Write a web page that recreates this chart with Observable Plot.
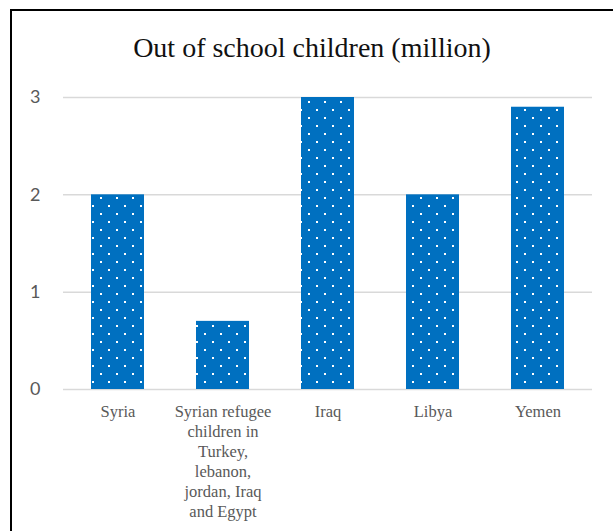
<!DOCTYPE html>
<html>
<head>
<meta charset="utf-8">
<script src="https://cdn.jsdelivr.net/npm/d3@7"></script>
<script src="https://cdn.jsdelivr.net/npm/@observablehq/plot@0.6"></script>
<style>
  html, body { margin: 0; padding: 0; background: #fff; }
  #page { position: relative; width: 613px; height: 531px; overflow: hidden; background: #fff; }
  #border { position: absolute; left: 10px; top: 9px; width: 700px; height: 600px;
            border-left: 2px solid #000; border-top: 2px solid #000; }
  #title { position: absolute; left: 0; top: 33px; width: 624px; text-align: center;
           font-family: "Liberation Serif", serif; font-size: 28px; line-height: 30px; color: #111; }
  #chart { position: absolute; left: 0; top: 80px; }
</style>
</head>
<body>
<div id="page">
  <div id="border"></div>
  <div id="title">Out of school children (million)</div>
  <div id="chart"></div>
</div>
<script>
// Out-of-school children, in millions
const categories = ["Syria", "Syrian refugee children in Turkey, lebanon, jordan, Iraq and Egypt", "Iraq", "Libya", "Yemen"];
const tickLabels = ["Syria", "Syrian refugee\nchildren in\nTurkey,\nlebanon,\njordan, Iraq\nand Egypt", "Iraq", "Libya", "Yemen"];
const values = [2, 0.7, 3, 2, 2.9];
const yTicks = [0, 1, 2, 3];

const data = categories.map((category, i) => ({category, value: values[i]}));

const chart = Plot.plot({
  width: 613,
  height: 451,
  marginTop: 17,
  marginBottom: 142,
  marginLeft: 63,
  marginRight: 21,
  style: {background: "transparent", fontFamily: "'Liberation Serif', serif"},
  x: {domain: categories, paddingInner: 0.5, paddingOuter: 0.25, label: null},
  y: {domain: [0, 3], label: null},
  marks: [
    Plot.gridY(yTicks, {stroke: "#d9d9d9", strokeOpacity: 1, strokeWidth: 1.5}),
    Plot.barY(data, {x: "category", y: "value", fill: "url(#dots)"}),
    Plot.axisY(yTicks, {
      tickSize: 0, tickPadding: 23, fontSize: 18, fill: "#595959",
      fontFamily: "Lato, sans-serif", label: null, tickFormat: d3.format("d")
    }),
    Plot.axisX({
      tickSize: 0, tickPadding: 13, fontSize: 16.5, lineHeight: 20 / 16.5,
      fill: "#595959", label: null,
      tickFormat: d => tickLabels[categories.indexOf(d)]
    })
  ]
});

// Dotted fill for the bars: white dots on a staggered 16px grid
const defs = d3.select(chart).insert("defs", ":first-child");
const pat = defs.append("pattern")
  .attr("id", "dots")
  .attr("patternUnits", "userSpaceOnUse")
  .attr("width", 16)
  .attr("height", 16);
pat.append("rect").attr("width", 16).attr("height", 16).attr("fill", "#0070C0");
pat.append("rect").attr("x", 4).attr("y", 5).attr("width", 2).attr("height", 2).attr("fill", "#fff");
pat.append("rect").attr("x", 12).attr("y", 13).attr("width", 2).attr("height", 2).attr("fill", "#fff");

document.getElementById("chart").appendChild(chart);
</script>
</body>
</html>
